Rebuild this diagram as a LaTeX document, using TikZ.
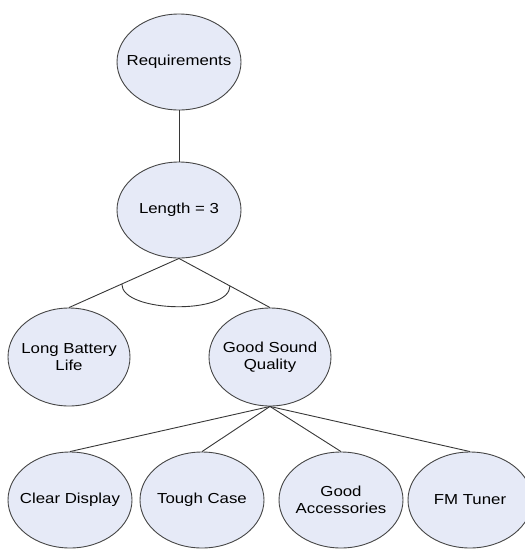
\documentclass[tikz,border=0pt]{standalone}
\usepackage{fontspec}
\setmainfont[FakeStretch=1.16]{Liberation Sans}
\usetikzlibrary{shapes.geometric,calc}
\definecolor{nodefill}{RGB}{230,234,247}
\definecolor{nodeedge}{RGB}{70,70,70}
\definecolor{linkcol}{RGB}{55,55,55}
\begin{document}
\begin{tikzpicture}[x=1pt,y=-1pt,
  labtext/.style={align=center,inner sep=0pt,
    font=\fontsize{14.5pt}{16.5pt}\selectfont},
  goal/.style={ellipse,draw=nodeedge,line width=0.9pt,fill=nodefill,
    minimum width=124pt,minimum height=96pt,inner sep=0pt,
    label={[labtext]center:{#1}}},
  link/.style={draw=linkcol,line width=0.9pt}]
\useasboundingbox (0,0) rectangle (525,550);
\node[goal={Requirements}] (req) at (179,62) {};
\node[goal={Length = 3}] (len) at (179,210) {};
\node[goal={Long Battery\\Life},minimum width=122pt,minimum height=98pt] (lbl) at (69,357) {};
\node[goal={Good Sound\\Quality},minimum width=122pt,minimum height=98pt] (gsq) at (270,357) {};
\node[goal={Clear Display}] (cd) at (70,500) {};
\node[goal={Tough Case}] (tc) at (202,500) {};
\node[goal={Good\\Accessories}] (ga) at (341,500) {};
\node[goal={FM Tuner}] (fm) at (470,500) {};
\draw[link] (req.south) -- (len.north);
\draw[link] (len.south) -- (lbl.north);
\draw[link] (len.south) -- (gsq.north);
\draw[link] ($(len.south)!0.52!(lbl.north)$) .. controls +(0,29) and +(0,29) .. ($(len.south)!0.56!(gsq.north)$);
\draw[link] (gsq.south) -- (cd.north);
\draw[link] (gsq.south) -- (tc.north);
\draw[link] (gsq.south) -- (ga.north);
\draw[link] (gsq.south) -- (fm.north);
\end{tikzpicture}
\end{document}
